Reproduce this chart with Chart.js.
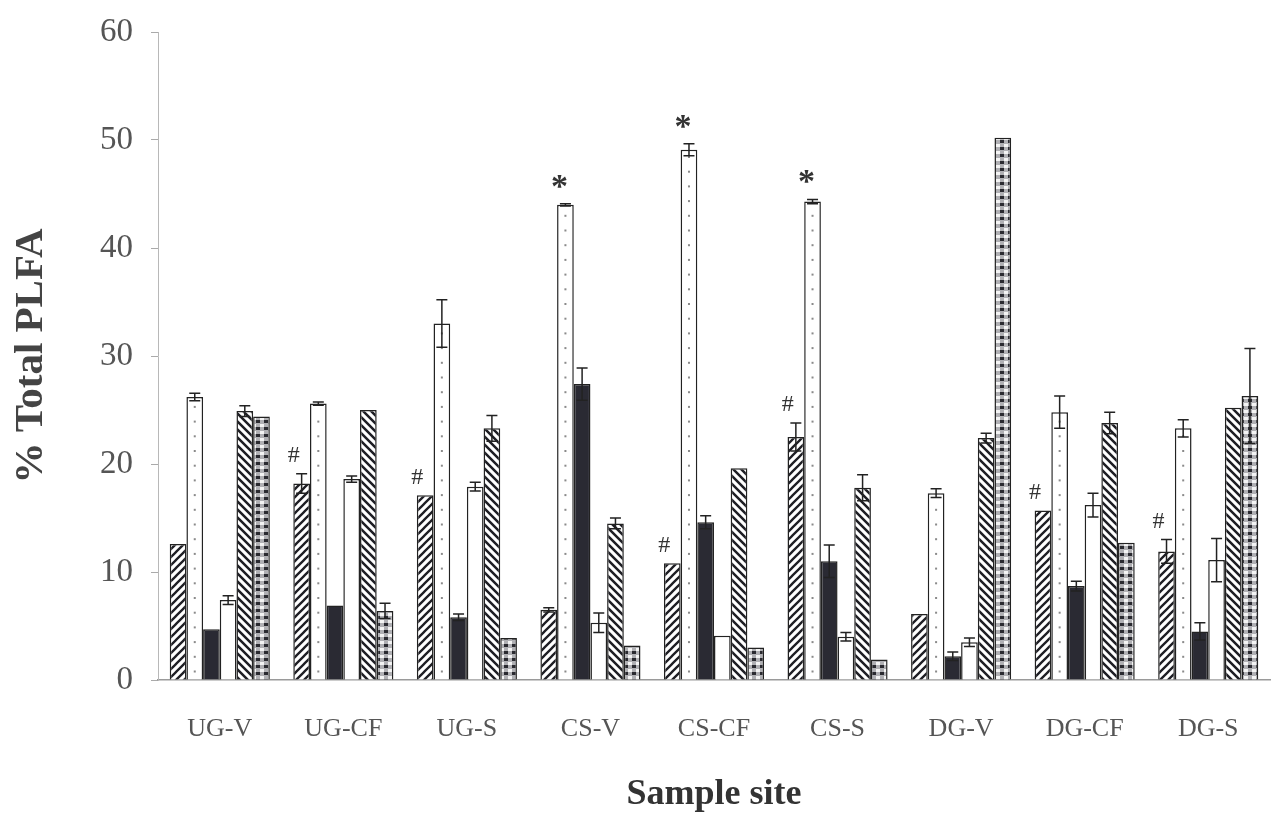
<!DOCTYPE html>
<html>
<head>
<meta charset="utf-8">
<script src="https://cdn.jsdelivr.net/npm/chart.js@4"></script>
<style>
  html, body { margin: 0; padding: 0; background: #fff; }
  #wrap { width: 1278px; height: 821px; }
</style>
</head>
<body>
<div id="wrap"><canvas id="plfa" width="1278" height="821"></canvas></div>
<script>
// sample sites
var categories = ['UG-V', 'UG-CF', 'UG-S', 'CS-V', 'CS-CF', 'CS-S', 'DG-V', 'DG-CF', 'DG-S'];

// % of total PLFA, six groups per site, with error bars
var series1 = [12.6, 18.2, 17.1, 6.5, 10.8, 22.5, 6.1, 15.7, 11.9];
var series1Err = [0, 0.9, 0, 0.2, 0, 1.3, 0, 0, 1.1];
var series2 = [26.2, 25.6, 33.0, 44.0, 49.1, 44.3, 17.3, 24.8, 23.3];
var series2Err = [0.35, 0.15, 2.2, 0.1, 0.55, 0.2, 0.4, 1.5, 0.8];
var series3 = [4.7, 6.9, 5.8, 27.4, 14.6, 11.0, 2.2, 8.7, 4.5];
var series3Err = [0, 0, 0.3, 1.5, 0.6, 1.5, 0.4, 0.45, 0.8];
var series4 = [7.4, 18.6, 17.9, 5.3, 4.1, 4.0, 3.5, 16.2, 11.1];
var series4Err = [0.4, 0.3, 0.4, 0.9, 0, 0.4, 0.4, 1.1, 2.0];
var series5 = [24.9, 25.0, 23.3, 14.5, 19.6, 17.8, 22.4, 23.8, 25.2];
var series5Err = [0.5, 0, 1.2, 0.5, 0, 1.2, 0.45, 1.0, 0];
var series6 = [24.4, 6.4, 3.9, 3.2, 3.0, 1.9, 50.2, 12.7, 26.3];
var series6Err = [0, 0.7, 0, 0, 0, 0, 0, 0, 4.4];

// significance marks: '#' over series 1, '*' over series 2
var hashMarks = [0, 1, 1, 0, 1, 1, 0, 1, 1];
var starMarks = [0, 0, 0, 1, 1, 1, 0, 0, 0];

var yTicks = [0, 10, 20, 30, 40, 50, 60];

function makePattern(draw, w, h) {
  var c = document.createElement('canvas');
  c.width = w; c.height = h;
  var g = c.getContext('2d');
  g.fillStyle = '#fff';
  g.fillRect(0, 0, w, h);
  draw(g, w, h);
  return g.createPattern(c, 'repeat');
}

var ctx = document.getElementById('plfa').getContext('2d');

var hatchUp = makePattern(function (g, w, h) {
  g.strokeStyle = '#1e1e24';
  g.lineWidth = 2.3;
  g.beginPath();
  g.moveTo(-2, h + 2); g.lineTo(w + 2, -2);
  g.moveTo(-2, 2); g.lineTo(2, -2);
  g.moveTo(w - 2, h + 2); g.lineTo(w + 2, h - 2);
  g.stroke();
}, 8, 8);

var hatchDown = makePattern(function (g, w, h) {
  g.strokeStyle = '#1e1e24';
  g.lineWidth = 2.5;
  g.beginPath();
  g.moveTo(-2, -2); g.lineTo(w + 2, h + 2);
  g.moveTo(w - 2, -2); g.lineTo(w + 2, 2);
  g.moveTo(-2, h - 2); g.lineTo(2, h + 2);
  g.stroke();
}, 8, 8);

var checker = makePattern(function (g, w, h) {
  g.fillStyle = '#b0b0b4';
  g.fillRect(0, 0, w, h);
  g.fillStyle = '#2a2a30';
  g.fillRect(0, 0, 4, 3);
  g.fillStyle = '#f4f4f4';
  g.fillRect(4, 4, 4, 3);
}, 8, 7);

var errors = [series1Err, series2Err, series3Err, series4Err, series5Err, series6Err];

var errorBars = {
  id: 'errorBars',
  afterDatasetsDraw: function (chart) {
    var c = chart.ctx;
    var y = chart.scales.y;
    c.save();
    // dots inside the dotted bars
    var m2 = chart.getDatasetMeta(1);
    c.fillStyle = '#8a8a8a';
    m2.data.forEach(function (el) {
      for (var py = el.base - 8; py > el.y + 4; py -= 14.7) {
        c.fillRect(el.x - 1, py - 1, 2, 2);
      }
    });
    c.strokeStyle = '#222';
    c.lineWidth = 1.5;
    chart.data.datasets.forEach(function (ds, i) {
      var meta = chart.getDatasetMeta(i);
      meta.data.forEach(function (el, j) {
        var e = errors[i][j];
        if (!e) return;
        var v = ds.data[j];
        var t = y.getPixelForValue(v + e);
        var b = y.getPixelForValue(v - e);
        var hw = 5.5;
        c.beginPath();
        c.moveTo(el.x, t); c.lineTo(el.x, b);
        c.moveTo(el.x - hw, t); c.lineTo(el.x + hw, t);
        c.moveTo(el.x - hw, b); c.lineTo(el.x + hw, b);
        c.stroke();
      });
    });
    // significance marks
    c.fillStyle = '#333';
    c.textAlign = 'center';
    c.textBaseline = 'middle';
    var m1 = chart.getDatasetMeta(0);
    c.font = '24px "Liberation Serif"';
    hashMarks.forEach(function (h, j) {
      if (!h) return;
      var el = m1.data[j];
      var t = y.getPixelForValue(series1[j] + series1Err[j]);
      c.fillText('#', el.x - 8, t - 18);
    });
    c.font = 'bold 34px "Liberation Serif"';
    starMarks.forEach(function (s, j) {
      if (!s) return;
      var el = m2.data[j];
      var t = y.getPixelForValue(series2[j] + series2Err[j]);
      c.fillText('*', el.x - 6, t - 16);
    });
    c.restore();
  }
};

var chart = new Chart(ctx, {
  type: 'bar',
  data: {
    labels: categories,
    datasets: [
      { label: 'Series 1', data: series1, backgroundColor: hatchUp },
      { label: 'Series 2', data: series2, backgroundColor: '#ffffff' },
      { label: 'Series 3', data: series3, backgroundColor: '#2a2a33' },
      { label: 'Series 4', data: series4, backgroundColor: '#ffffff' },
      { label: 'Series 5', data: series5, backgroundColor: hatchDown },
      { label: 'Series 6', data: series6, backgroundColor: checker }
    ]
  },
  options: {
    responsive: false,
    animation: false,
    layout: { padding: { top: 32, right: 8, left: 0, bottom: 0 } },
    datasets: {
      bar: {
        borderColor: '#222',
        borderWidth: 1.5,
        categoryPercentage: 0.81,
        barPercentage: 1.0
      }
    },
    plugins: {
      legend: { display: false },
      tooltip: { enabled: false }
    },
    scales: {
      x: {
        grid: { display: false },
        border: { display: true, color: '#9a9a9a', width: 1.5 },
        ticks: {
          color: '#555',
          padding: 26,
          font: { family: '"Liberation Serif"', size: 26 }
        },
        title: {
          display: true,
          text: 'Sample site',
          color: '#333',
          padding: { top: 0, bottom: 5 },
          font: { family: '"Liberation Serif"', size: 36, weight: 'bold' }
        },
        afterFit: function (scale) { scale.height = 141; }
      },
      y: {
        min: 0,
        max: 60,
        afterBuildTicks: function (scale) {
          scale.ticks = yTicks.map(function (v) { return { value: v }; });
        },
        grid: { drawOnChartArea: false, tickLength: 7, color: '#aaa' },
        border: { display: true, color: '#b8b8b8', width: 1 },
        ticks: {
          color: '#555',
          padding: 18,
          font: { family: '"Liberation Serif"', size: 33 }
        },
        title: {
          display: true,
          text: '% Total PLFA',
          color: '#444',
          padding: { top: 7, bottom: 0 },
          font: { family: '"Liberation Serif"', size: 41, weight: 'bold' }
        },
        afterFit: function (scale) {
          scale.width = 158;
          scale.paddingTop = 10;
          scale.paddingBottom = 10;
        }
      }
    }
  },
  plugins: [errorBars]
});
</script>
</body>
</html>
